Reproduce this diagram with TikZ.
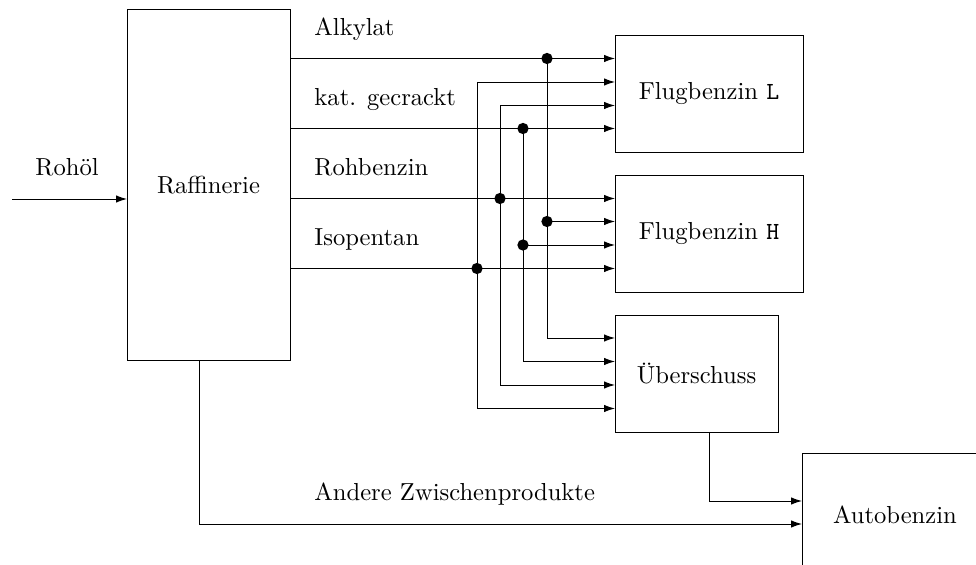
\documentclass[tikz,border=0pt]{standalone}
\usepackage{fontspec}
\usetikzlibrary{arrows.meta}
\begin{document}
\begin{tikzpicture}[x=0.4065pt,y=-0.4065pt,
  box/.style={draw,rectangle,inner sep=0pt,outer sep=0pt,line width=0.4pt},
  flow/.style={-{Latex[length=4.4pt,width=3pt]},line width=0.4pt},
  lbl/.style={anchor=base west,inner sep=0pt},
  junction/.style={circle,fill,inner sep=0pt,minimum size=4.6pt}]
\useasboundingbox (0,0) rectangle (976,565);

% process units
\node[box,minimum width=66.26pt,minimum height=142.28pt] (raf) at (208.5,185) {Raffinerie};
\node[box,minimum width=76.42pt,minimum height=47.56pt] (fl) at (709,93.5) {Flugbenzin \texttt{L}};
\node[box,minimum width=76.42pt,minimum height=47.56pt] (fh) at (709,233.5) {Flugbenzin \texttt{H}};
\node[box,minimum width=66.26pt,minimum height=47.56pt] (ue) at (696.5,373.5) {Überschuss};
\node[box,minimum width=75.6pt,minimum height=50.4pt] (auto) at (895,515) {Autobenzin};

% row heights of the streams
\coordinate (rA) at (0,58.5);
\coordinate (rK) at (0,128.5);
\coordinate (rR) at (0,198.5);
\coordinate (rI) at (0,268.5);
\coordinate (u1) at (0,338);
\coordinate (u2) at (0,361.5);
\coordinate (u3) at (0,385);
\coordinate (u4) at (0,408.5);
\coordinate (a1) at (0,501);
\coordinate (a2) at (0,524);
\coordinate (xo) at (709,0);
\coordinate (xr) at (199,0);

% top ends of the distribution columns
\coordinate (tI) at (477,82);
\coordinate (tR) at (500,105.5);

% branch points
\coordinate (jA) at (547,58.5);
\coordinate (jA2) at (547,221.5);
\coordinate (jK) at (523,128.5);
\coordinate (jK2) at (523,245);
\coordinate (jR) at (500,198.5);
\coordinate (jI) at (477,268.5);

% crude oil feed
\coordinate (src) at (12,199);
\draw[flow] (src) -- (raf.west |- src);
\node[lbl] (lroh) at (35,176) {Rohöl};

% refinery products
\draw[flow] (raf.east |- rA) -- (fl.west |- rA);
\draw[flow] (raf.east |- rK) -- (fl.west |- rK);
\draw[flow] (raf.east |- rR) -- (fh.west |- rR);
\draw[flow] (raf.east |- rI) -- (fh.west |- rI);
\node[lbl] (lalk) at (314,36) {Alkylat};
\node[lbl] (lkat) at (314,106) {kat. gecrackt};
\node[lbl] (lrb) at (314,176) {Rohbenzin};
\node[lbl] (liso) at (314,246) {Isopentan};

% Alkylat column
\draw[flow] (jA) |- (ue.west |- u1);
\draw[flow] (jA2) -- (fh.west |- jA2);
% kat. gecrackt column
\draw[flow] (jK) |- (ue.west |- u2);
\draw[flow] (jK2) -- (fh.west |- jK2);
% Rohbenzin column
\draw[flow] (tR) -- (fl.west |- tR);
\draw[flow] (tR) |- (ue.west |- u3);
% Isopentan column
\draw[flow] (tI) -- (fl.west |- tI);
\draw[flow] (tI) |- (ue.west |- u4);

% junction dots
\foreach \j in {jA,jA2,jK,jK2,jR,jI}
  \node[junction] at (\j) {};

% motor gasoline blending
\draw[flow] (ue.south -| xo) |- (auto.west |- a1);
\draw[flow] (raf.south -| xr) |- (auto.west |- a2);
\node[lbl] (land) at (314,501) {Andere Zwischenprodukte};
\end{tikzpicture}
\end{document}
